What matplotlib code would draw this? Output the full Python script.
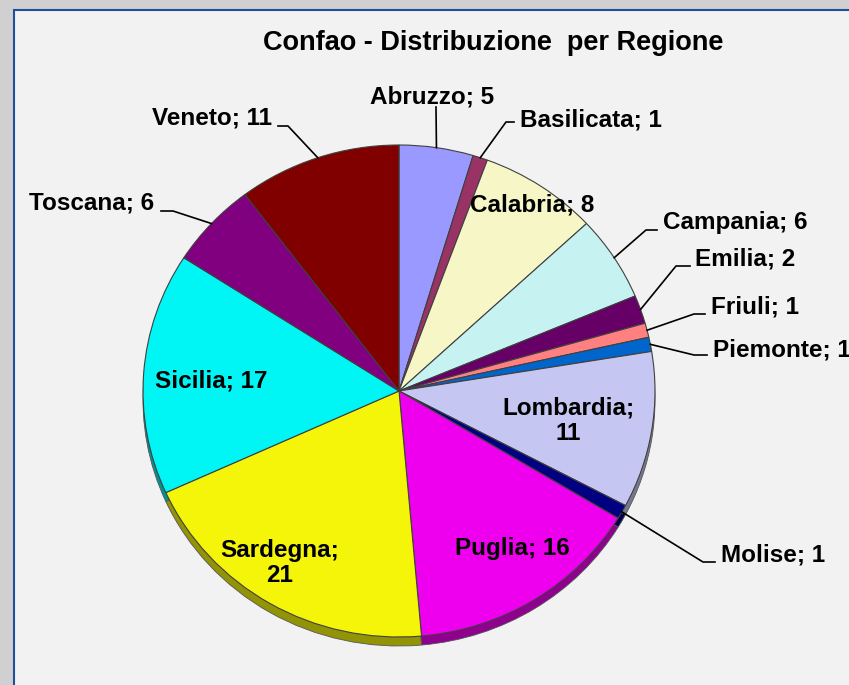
import numpy as np
import matplotlib
matplotlib.use("Agg")
import matplotlib.pyplot as plt
from matplotlib.patches import Rectangle
from matplotlib.colors import to_rgb

# data
regioni = ["Abruzzo", "Basilicata", "Calabria", "Campania", "Emilia", "Friuli",
           "Piemonte", "Lombardia", "Molise", "Puglia", "Sardegna", "Sicilia",
           "Toscana", "Veneto"]
valori = [5, 1, 8, 6, 2, 1, 1, 11, 1, 16, 21, 17, 6, 11]
colori = ["#9999ff", "#993366", "#f6f6c6", "#c6f2f2", "#660066", "#ff8080",
          "#0066cc", "#c6c6f2", "#000080", "#ee00ee", "#f5f50a", "#00f5f5",
          "#800080", "#800000"]
titolo = "Confao - Distribuzione  per Regione"

W, H = 849, 685
CX, CY, RX, RY = 399, 391, 256, 246   # pie centre / radii in pixels
DEPTH = 9                              # 3d rim thickness

# label layout: text position, alignment, leader (start, elbow) or None if inside
layout = {
    "Abruzzo":    dict(xy=(432, 97), ha="center", lead=[(436, 107)]),
    "Basilicata": dict(xy=(520, 120), ha="left", lead=[(514, 122), (506, 122)]),
    "Calabria":   dict(xy=(532, 205), ha="center", lead=None),
    "Campania":   dict(xy=(663, 222), ha="left", lead=[(657, 230), (646, 230)]),
    "Emilia":     dict(xy=(695, 259), ha="left", lead=[(690, 266), (676, 266)]),
    "Friuli":     dict(xy=(711, 307), ha="left", lead=[(705, 314), (694, 314)]),
    "Piemonte":   dict(xy=(713, 350), ha="left", lead=[(707, 355), (694, 355)]),
    "Lombardia":  dict(xy=(568, 421), ha="center", lead=None, two=True),
    "Molise":     dict(xy=(721, 555), ha="left", lead=[(715, 562), (703, 562)]),
    "Puglia":     dict(xy=(512, 549), ha="center", lead=None),
    "Sardegna":   dict(xy=(280, 563), ha="center", lead=None, two=True),
    "Sicilia":    dict(xy=(211, 381), ha="center", lead=None),
    "Toscana":    dict(xy=(154, 203), ha="right", lead=[(161, 211), (173, 211)]),
    "Veneto":     dict(xy=(272, 118), ha="right", lead=[(278, 126), (288, 126)]),
}

plt.rcParams["font.family"] = ["Liberation Sans", "DejaVu Sans"]
plt.rcParams["font.weight"] = "bold"

fig = plt.figure(figsize=(W / 100, H / 100), dpi=100, facecolor="#d0d0d0")

# background / frame in pixel coordinates
bg = fig.add_axes([0, 0, 1, 1])
bg.set_xlim(0, W)
bg.set_ylim(H, 0)
bg.axis("off")
bg.add_patch(Rectangle((14, 10), W, H, facecolor="#f2f2f2",
                       edgecolor="#1f4e9c", linewidth=1.5))

# pie axes, slightly elliptical
pad = 1.1
pie_ax = fig.add_axes([(CX - RX * pad) / W, (H - CY - RY * pad) / H,
                       2 * RX * pad / W, 2 * RY * pad / H])
pie_ax.patch.set_alpha(0)


def darker(c, f=0.6):
    return tuple(v * f for v in to_rgb(c))


# rim (3d depth)
pie_ax.pie(valori, colors=[darker(c) for c in colori], startangle=90,
           counterclock=False, center=(0, -DEPTH / RY),
           wedgeprops=dict(edgecolor="#555555", linewidth=0.6))
wedges, _ = pie_ax.pie(valori, colors=colori, startangle=90,
                       counterclock=False,
                       wedgeprops=dict(edgecolor="#404040", linewidth=0.8))
pie_ax.set_aspect("auto")
pie_ax.set_xlim(-pad, pad)
pie_ax.set_ylim(-pad, pad)
pie_ax.axis("off")

bg.set_zorder(0)
pie_ax.set_zorder(1)

# overlay for labels
ov = fig.add_axes([0, 0, 1, 1])
ov.set_xlim(0, W)
ov.set_ylim(H, 0)
ov.axis("off")
ov.set_zorder(2)
ov.patch.set_alpha(0)

ov.text(493, 43, titolo, ha="center", va="center", fontsize=19.5,
        fontweight="bold")

for w, nome, v in zip(wedges, regioni, valori):
    lay = layout[nome]
    testo = f"{nome};\n{v}" if lay.get("two") else f"{nome}; {v}"
    x, y = lay["xy"]
    ov.text(x, y, testo, ha=lay["ha"], va="center", fontsize=17.5,
            fontweight="bold", linespacing=1.15, multialignment="center")
    if lay["lead"]:
        ang = np.deg2rad((w.theta1 + w.theta2) / 2)
        ax_pt = (CX + RX * np.cos(ang), CY - RY * np.sin(ang))
        pts = lay["lead"] + [ax_pt]
        ov.plot([p[0] for p in pts], [p[1] for p in pts], color="black",
                linewidth=1.2)

fig.savefig("out.png", dpi=100, facecolor=fig.get_facecolor())
